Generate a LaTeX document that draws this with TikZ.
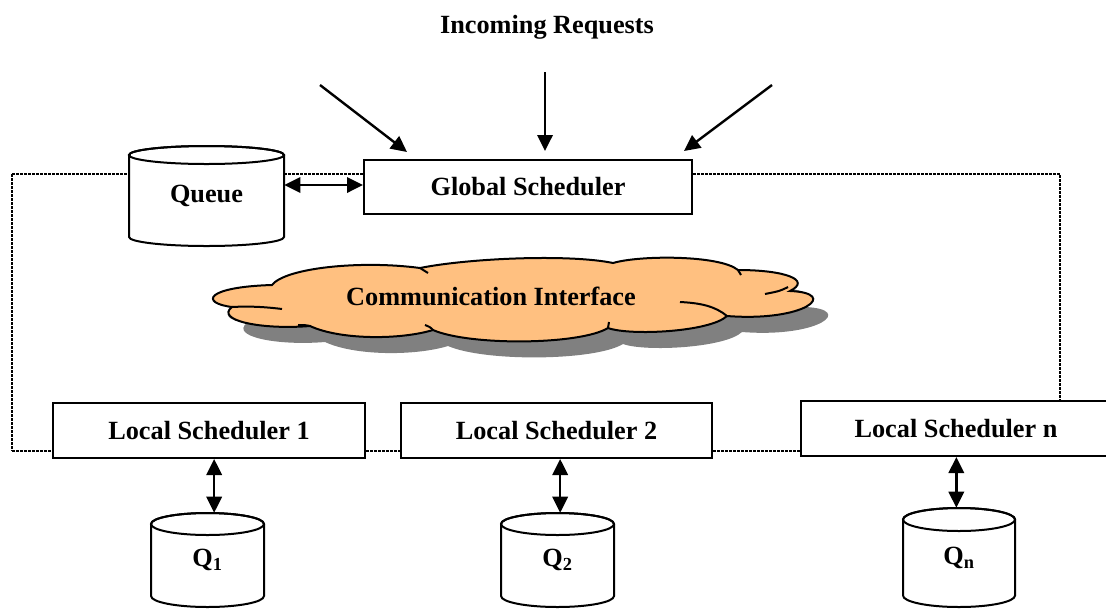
\documentclass[tikz,border=0pt]{standalone}
\usepackage{fontspec}
\setmainfont{Liberation Serif}
\usetikzlibrary{arrows.meta}
\definecolor{peach}{RGB}{255,192,128}
\definecolor{shadowgray}{RGB}{128,128,128}
\tikzset{
  lbl/.style={font=\bfseries\fontsize{19.7}{23}\selectfont, inner sep=0pt},
  boxst/.style={lbl, draw, line width=1.5pt, fill=white},
  cylnode/.style={lbl},
  cylst/.style={line width=1.5pt, fill=white},
  dotline/.style={line width=1.9pt, dash pattern=on 1.9pt off 1.1pt},
  tipst/.tip={Triangle[length=12pt,width=11.5pt]},
  arr/.style={line width=1.8pt, -tipst},
  darr/.style={line width=1.8pt, tipst-tipst},
  cloudst/.style={line width=1.5pt, fill=peach},
  innerst/.style={line width=1.5pt},
}
% cylinder outline: xl, xr, ytop, ybottom, ry  (pixel units, y downwards)
\newcommand{\mycyl}[5]{%
  \pgfmathsetmacro{\cylrx}{(#2-#1)/2}%
  \pgfmathsetmacro{\cylcx}{(#2+#1)/2}%
  \filldraw[cylst] (#1,-#3-#5) -- (#1,-#4+#5)
    arc[start angle=180,end angle=360,x radius=\cylrx,y radius=#5]
    -- (#2,-#3-#5)
    arc[start angle=0,end angle=180,x radius=\cylrx,y radius=#5] -- cycle;
  \draw[line width=1.5pt] (\cylcx,-#3-#5) ellipse[x radius=\cylrx,y radius=#5];
}
\def\cloudoutline{(232,-307) .. controls (200,-303) and (205,-287) .. (272,-285)
  .. controls (285,-268) and (360,-260) .. (420,-268)
  .. controls (470,-258) and (570,-254) .. (613,-263)
  .. controls (640,-255) and (720,-255) .. (738,-270)
  .. controls (785,-270) and (812,-280) .. (790,-291)
  .. controls (840,-293) and (805,-322) .. (727,-316)
  .. controls (710,-332) and (630,-336) .. (608,-328)
  .. controls (580,-345) and (470,-346) .. (433,-330)
  .. controls (400,-340) and (340,-340) .. (310,-326)
  .. controls (260,-330) and (215,-320) .. (232,-307) -- cycle}
\begin{document}
\begin{tikzpicture}[x=0.75pt,y=0.75pt]
\useasboundingbox (0,0) rectangle (1106,-608);

% title and incoming requests
\node[lbl] (title) at (547,-27) {Incoming Requests};
\coordinate (in1) at (320,-85);
\coordinate (in2) at (545,-72);
\coordinate (in3) at (772,-85);

% global scheduler
\node[boxst, minimum width=246pt, minimum height=40.5pt] (gs) at (528,-187) {Global Scheduler};

\coordinate (dl) at (12,-174);
\coordinate (dr) at (1060,-174);
\coordinate (dbl) at (12,-451);
\coordinate (qa) at (0,-185);

% dotted ring
\draw[dotline] (dl) -- (dbl);
\draw[dotline] (dl) -- (180,-174);
\draw[dotline] (200,-174) -- (gs.west |- dl);
\draw[dotline] (gs.east |- dl) -- (dr) -- (1060,-401);

% queue cylinder
\mycyl{129}{284}{146}{246}{9}
\node[cylnode, minimum width=116.25pt, minimum height=75pt] (queue) at (206.5,-196) {Queue};

\draw[darr] (queue.east |- qa) -- (gs.west |- qa);

\draw[arr] (in1) -- ([shift={(-121,7)}]gs.north);
\draw[arr] (in2) -- ([shift={(17,8)}]gs.north);
\draw[arr] (in3) -- ([shift={(156,8)}]gs.north);

% cloud
\fill[shadowgray, shift={(15,-16)}] \cloudoutline;
\draw[cloudst] \cloudoutline;
\draw[innerst] (232,-307) .. controls (250,-306) and (266,-307) .. (282,-309);
\draw[innerst] (788,-287) .. controls (780,-291) .. (765,-294);
\draw[innerst] (727,-316) .. controls (715,-306) and (700,-303) .. (680,-302);
\draw[innerst] (420,-268) .. controls (424,-270) .. (428,-273);
\draw[innerst] (738,-270) .. controls (740,-272) .. (741,-275);
\draw[innerst] (608,-328) .. controls (609,-325) .. (609,-322);
\draw[innerst] (433,-330) .. controls (430,-327) .. (425,-325);
\draw[innerst] (310,-326) .. controls (305,-325) .. (298,-325);
\node[lbl] (ci) at (491,-296) {Communication Interface};

% local schedulers
\node[boxst, minimum width=234pt, minimum height=41.25pt] (ls1) at (209,-430.5) {Local Scheduler 1};
\node[boxst, minimum width=233.25pt, minimum height=41.25pt] (ls2) at (556.5,-430.5) {Local Scheduler 2};
\node[boxst, minimum width=232.5pt, minimum height=41.25pt] (lsn) at (956,-428.5) {Local Scheduler n};

\draw[dotline] (dbl) -- (ls1.west |- dbl);
\draw[dotline] (ls1.east |- dbl) -- (ls2.west |- dbl);
\draw[dotline] (ls2.east |- dbl) -- (lsn.west |- dbl);

% local queues
\mycyl{151}{264}{513}{607}{11}
\node[cylnode, minimum width=84.75pt, minimum height=70.5pt] (q1) at (207.5,-560) {Q\textsubscript{1}};
\mycyl{501}{614}{513}{607}{11}
\node[cylnode, minimum width=84.75pt, minimum height=70.5pt] (q2) at (557.5,-560) {Q\textsubscript{2}};
\mycyl{903}{1015}{508}{607}{11.5}
\node[cylnode, minimum width=84pt, minimum height=74.25pt] (qn) at (959,-557.5) {Q\textsubscript{n}};

\draw[darr] ([xshift=5]q1.north) -- ([xshift=5]q1.north |- ls1.south);
\draw[darr] ([xshift=2]q2.north) -- ([xshift=2]q2.north |- ls2.south);
\draw[darr] ([xshift=-2]qn.north) -- ([xshift=-2]qn.north |- lsn.south);
\end{tikzpicture}
\end{document}
